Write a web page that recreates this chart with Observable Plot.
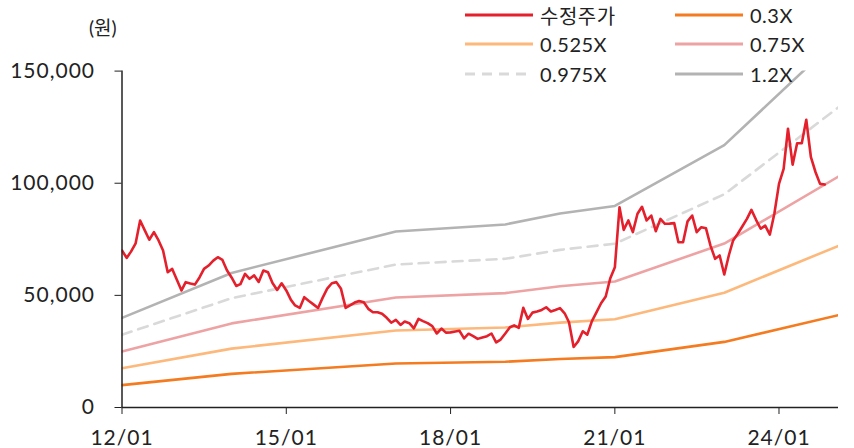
<!DOCTYPE html>
<html>
<head>
<meta charset="utf-8">
<script src="https://cdn.jsdelivr.net/npm/d3@7"></script>
<script src="https://cdn.jsdelivr.net/npm/@observablehq/plot@0.6"></script>
<style>
  html, body { margin: 0; padding: 0; background: #fff; }
  #wrap { position: relative; width: 854px; height: 448px; overflow: hidden;
          font-family: Lato, "Noto Sans CJK KR", sans-serif; color: #222; }
  #wrap svg.plot { position: absolute; left: 0; top: 0; }
  .unit { position: absolute; left: 89px; top: 15px; font-size: 19px; line-height: 26px; }
  .leg { position: absolute; height: 26px; display: flex; align-items: center; font-size: 20px; letter-spacing: 0.5px; }
  .leg svg { margin-right: 7px; }
</style>
</head>
<body>
<div id="wrap"></div>
<script>
// ---- data ----
const priceStart = "2012-01-01";   // monthly 수정주가 (원), from 2012/01
const priceValues = [
  70000, 66700, 69500, 73200, 83400, 79000, 74800, 78200, 74500, 70000,
  60300, 61800, 57000, 52200, 55900, 55300, 54800, 58000, 61800, 63300,
  65500, 67000, 65800, 61200, 58000, 54200, 55000, 59600, 57400, 58900,
  56000, 61100, 60300, 55500, 52400, 55400, 52200, 48000, 45500, 44400,
  49200, 47500, 46000, 44400, 49000, 53000, 55400, 55900, 52900, 44400,
  45500, 46800, 47500, 46900, 44000, 42500, 42500, 41800, 40000, 37800,
  39100, 36800, 38300, 37600, 35300, 39500, 38500, 37600, 36300, 33000,
  35200, 33400, 33500, 33900, 34200, 30800, 32900, 31800, 30600, 31200,
  31800, 33000, 29000, 30300, 33000, 35800, 36600, 35500, 44500, 39500,
  42300, 42800, 43500, 44700, 42800, 43500, 44300, 42000, 38000, 27000,
  29500, 34000, 32500, 38500, 42500, 46500, 49500, 57500, 62500, 89300,
  79200, 83400, 78200, 86400, 89500, 83400, 85600, 78600, 84100, 81900,
  82000, 82200, 73700, 73700, 83000, 85600, 78200, 80400, 79900, 72200,
  66300, 67800, 59300, 68000, 74500, 77500, 80700, 84100, 88100, 83700,
  79700, 81100, 77100, 86400, 99700, 106400, 124300, 108300, 117800, 117800,
  128300, 111600, 104900, 99700, 99400
];
const bpsDates = ["2012-01-01", "2014-01-01", "2017-01-01", "2019-01-01", "2020-01-01", "2021-01-01", "2023-01-01", "2025-02-01"];
const bpsValues = [33300, 50000, 65400, 68000, 72100, 74900, 97500, 137300];
const multiples = [0.3, 0.525, 0.75, 0.975, 1.2];
const bandLabels = ["0.3X", "0.525X", "0.75X", "0.975X", "1.2X"];
const bandColors = ["#f47b20", "#fdb87c", "#eda3a3", "#d9d9d9", "#b3b3b3"];
const priceLabel = "수정주가";
const priceColor = "#e3202b";
const xTicks = ["2012-01-01", "2015-01-01", "2018-01-01", "2021-01-01", "2024-01-01"];
const yTicks = [0, 50000, 100000, 150000];
const unitLabel = "(원)";

// ---- tables ----
const t0 = new Date(priceStart);
const priceRows = priceValues.map((v, i) => ({date: d3.utcMonth.offset(t0, i), value: v}));
const bandRows = multiples.flatMap((m, i) =>
  bpsDates.map((d, j) => ({date: new Date(d), value: bpsValues[j] * m, band: bandLabels[i]})));

const chart = Plot.plot({
  width: 854,
  height: 448,
  marginLeft: 121.5,
  marginRight: 16,
  marginTop: 70.6,
  marginBottom: 41,
  style: {fontFamily: 'Lato, "Noto Sans CJK KR", sans-serif', fontSize: "21px", color: "#222", background: "transparent"},
  x: {type: "utc", domain: [new Date("2012-01-01"), new Date("2025-02-01")],
      ticks: xTicks.map(d => new Date(d)), tickFormat: d3.utcFormat("%y/%m"),
      tickSize: 7, tickPadding: 16, label: null},
  y: {domain: [0, 150000], ticks: yTicks, tickFormat: d3.format(","),
      tickSize: 7, tickPadding: 20, label: null},
  color: {domain: bandLabels, range: bandColors},
  marks: [
    Plot.lineY(bandRows.filter(r => r.band !== "0.975X"), {x: "date", y: "value", z: "band", stroke: "band", strokeWidth: 2.6, clip: true}),
    Plot.lineY(bandRows.filter(r => r.band === "0.975X"), {x: "date", y: "value", stroke: bandColors[3], strokeWidth: 2.6, strokeDasharray: "10,7", clip: true}),
    Plot.lineY(priceRows, {x: "date", y: "value", stroke: priceColor, strokeWidth: 2.6, clip: true}),
    Plot.ruleX([new Date("2012-01-01")], {stroke: "#222", strokeWidth: 1.5}),
    Plot.ruleY([0], {stroke: "#222", strokeWidth: 1.5})
  ]
});
chart.classList.add("plot");
chart.querySelectorAll("text").forEach(t => t.setAttribute("letter-spacing", "1"));
const wrap = document.getElementById("wrap");
wrap.appendChild(chart);

// unit label
const u = document.createElement("div");
u.className = "unit";
u.textContent = unitLabel;
wrap.appendChild(u);

// legend
const legItems = [
  {label: priceLabel, color: priceColor, dash: null, col: 0, row: 0},
  {label: bandLabels[0], color: bandColors[0], dash: null, col: 1, row: 0},
  {label: bandLabels[1], color: bandColors[1], dash: null, col: 0, row: 1},
  {label: bandLabels[2], color: bandColors[2], dash: null, col: 1, row: 1},
  {label: bandLabels[3], color: bandColors[3], dash: "10,7", col: 0, row: 2},
  {label: bandLabels[4], color: bandColors[4], dash: null, col: 1, row: 2}
];
const colX = [465, 675];
const rowY = [2, 31, 61];
for (const it of legItems) {
  const d = document.createElement("div");
  d.className = "leg";
  d.style.left = colX[it.col] + "px";
  d.style.top = rowY[it.row] + "px";
  d.innerHTML = `<svg width="68" height="6"><line x1="0" x2="68" y1="3" y2="3" stroke="${it.color}" stroke-width="3" ${it.dash ? `stroke-dasharray="${it.dash}"` : ""}/></svg><span>${it.label}</span>`;
  wrap.appendChild(d);
}
</script>
</body>
</html>
